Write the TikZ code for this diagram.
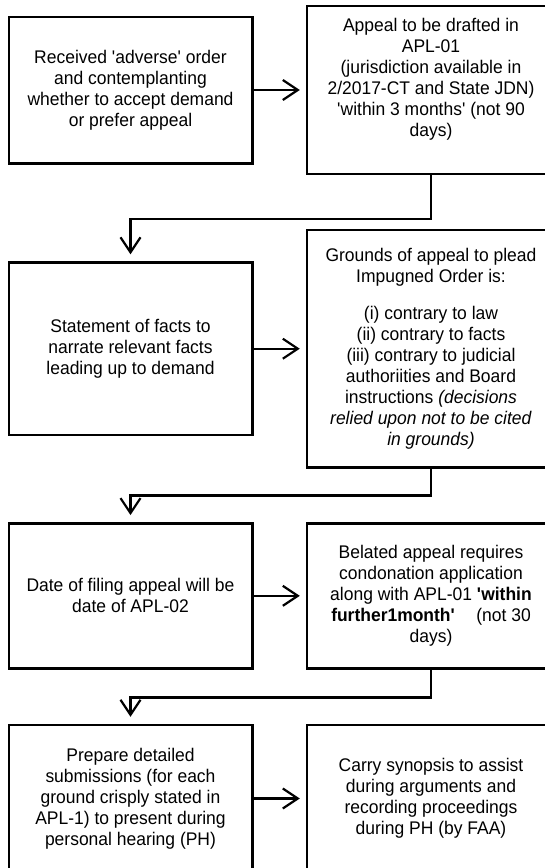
\documentclass[tikz,border=0pt]{standalone}
\usepackage{fontspec}
\setmainfont{Liberation Sans}[FakeStretch=0.955]
\usetikzlibrary{arrows.meta}
\newcommand{\sq}{\textquotesingle}

\begin{document}
\begin{tikzpicture}[x=1pt,y=-1pt,
  stage/.style={draw, line width=2.4pt, inner sep=0pt},
  lcol/.style={stage, minimum width=243.6pt},
  rcol/.style={stage, minimum width=248pt},
  words/.style={align=center, font=\fontsize{18.3}{21}\selectfont},
  flow/.style={-{Straight Barb[length=15pt,width=20pt]}, line width=2.2pt}]
\clip (0,0) rectangle (545,868);
\fill[white] (0,0) rectangle (545,868);

% First row
\node[lcol, minimum height=146.6pt] (order) at (130.5,90) {};
\node[rcol, minimum height=168pt] (draft) at (431,90) {};
\node[words] (order-txt) at (order.center) {Received \sq adverse\sq\ order\\and contemplanting\\whether to accept demand\\or prefer appeal};
\node[words] (draft-txt) at ([yshift=11pt]draft.center) {Appeal to be drafted in\\APL-01\\ (jurisdiction available in\\2/2017-CT and State JDN)\\\sq within 3 months\sq\ (not 90\\days)};

% Second row
\node[lcol, minimum height=172.5pt] (facts) at (130.5,348.7) {};
\node[rcol, minimum height=237.3pt] (grounds) at (431,348.7) {};
\node[words] (facts-txt) at (facts.center) {Statement of facts to\\narrate relevant facts\\leading up to demand};
\node[words] (grounds-txt) at (grounds.center) {Grounds of appeal to plead\\Impugned Order is:\\[16pt]
  (i) contrary to law\\(ii) contrary to facts\\(iii) contrary to judicial\\authoriities and Board\\instructions \textit{(decisions}\\\textit{relied upon not to be cited}\\\textit{in grounds)}};

% Third row
\node[lcol, minimum height=145pt] (filing) at (130.5,595.8) {};
\node[rcol, minimum height=145pt] (belated) at (431,595.8) {};
\node[words] (filing-txt) at (filing.center) {Date of filing appeal will be\\date of APL-02};
\node[words] (belated-txt) at (belated.center) {Belated appeal requires\\condonation application\\along with APL-01 \textbf{\sq within}\\\textbf{further1month\sq}\hspace{0.9em} (not 30\\days)};

% Fourth row
\node[lcol, minimum height=147pt] (submit) at (130.5,798.5) {};
\node[rcol, minimum height=147pt] (synopsis) at (431,798.5) {};
\node[words] (submit-txt) at (submit.center) {Prepare detailed\\submissions (for each\\ground crisply stated in\\APL-1) to present during\\personal hearing (PH)};
\node[words] (synopsis-txt) at (synopsis.center) {Carry synopsis to assist\\during arguments and\\recording proceedings\\during PH (by FAA)};

% Across
\draw[flow, shorten >=6pt] (order) -- (draft);
\draw[flow, shorten >=6pt] (facts) -- (grounds);
\draw[flow, shorten >=6pt] (filing) -- (belated);
\draw[flow, shorten >=6pt] (submit) -- (synopsis);

% Down to next row
\draw[flow, shorten >=7pt] (draft.south) -- ++(0,44) -| (facts.north);
\draw[flow, shorten >=7pt] (grounds.south) -- ++(0,27) -| (filing.north);
\draw[flow, shorten >=7pt] (belated.south) -- ++(0,28) -| (submit.north);
\end{tikzpicture}
\end{document}
